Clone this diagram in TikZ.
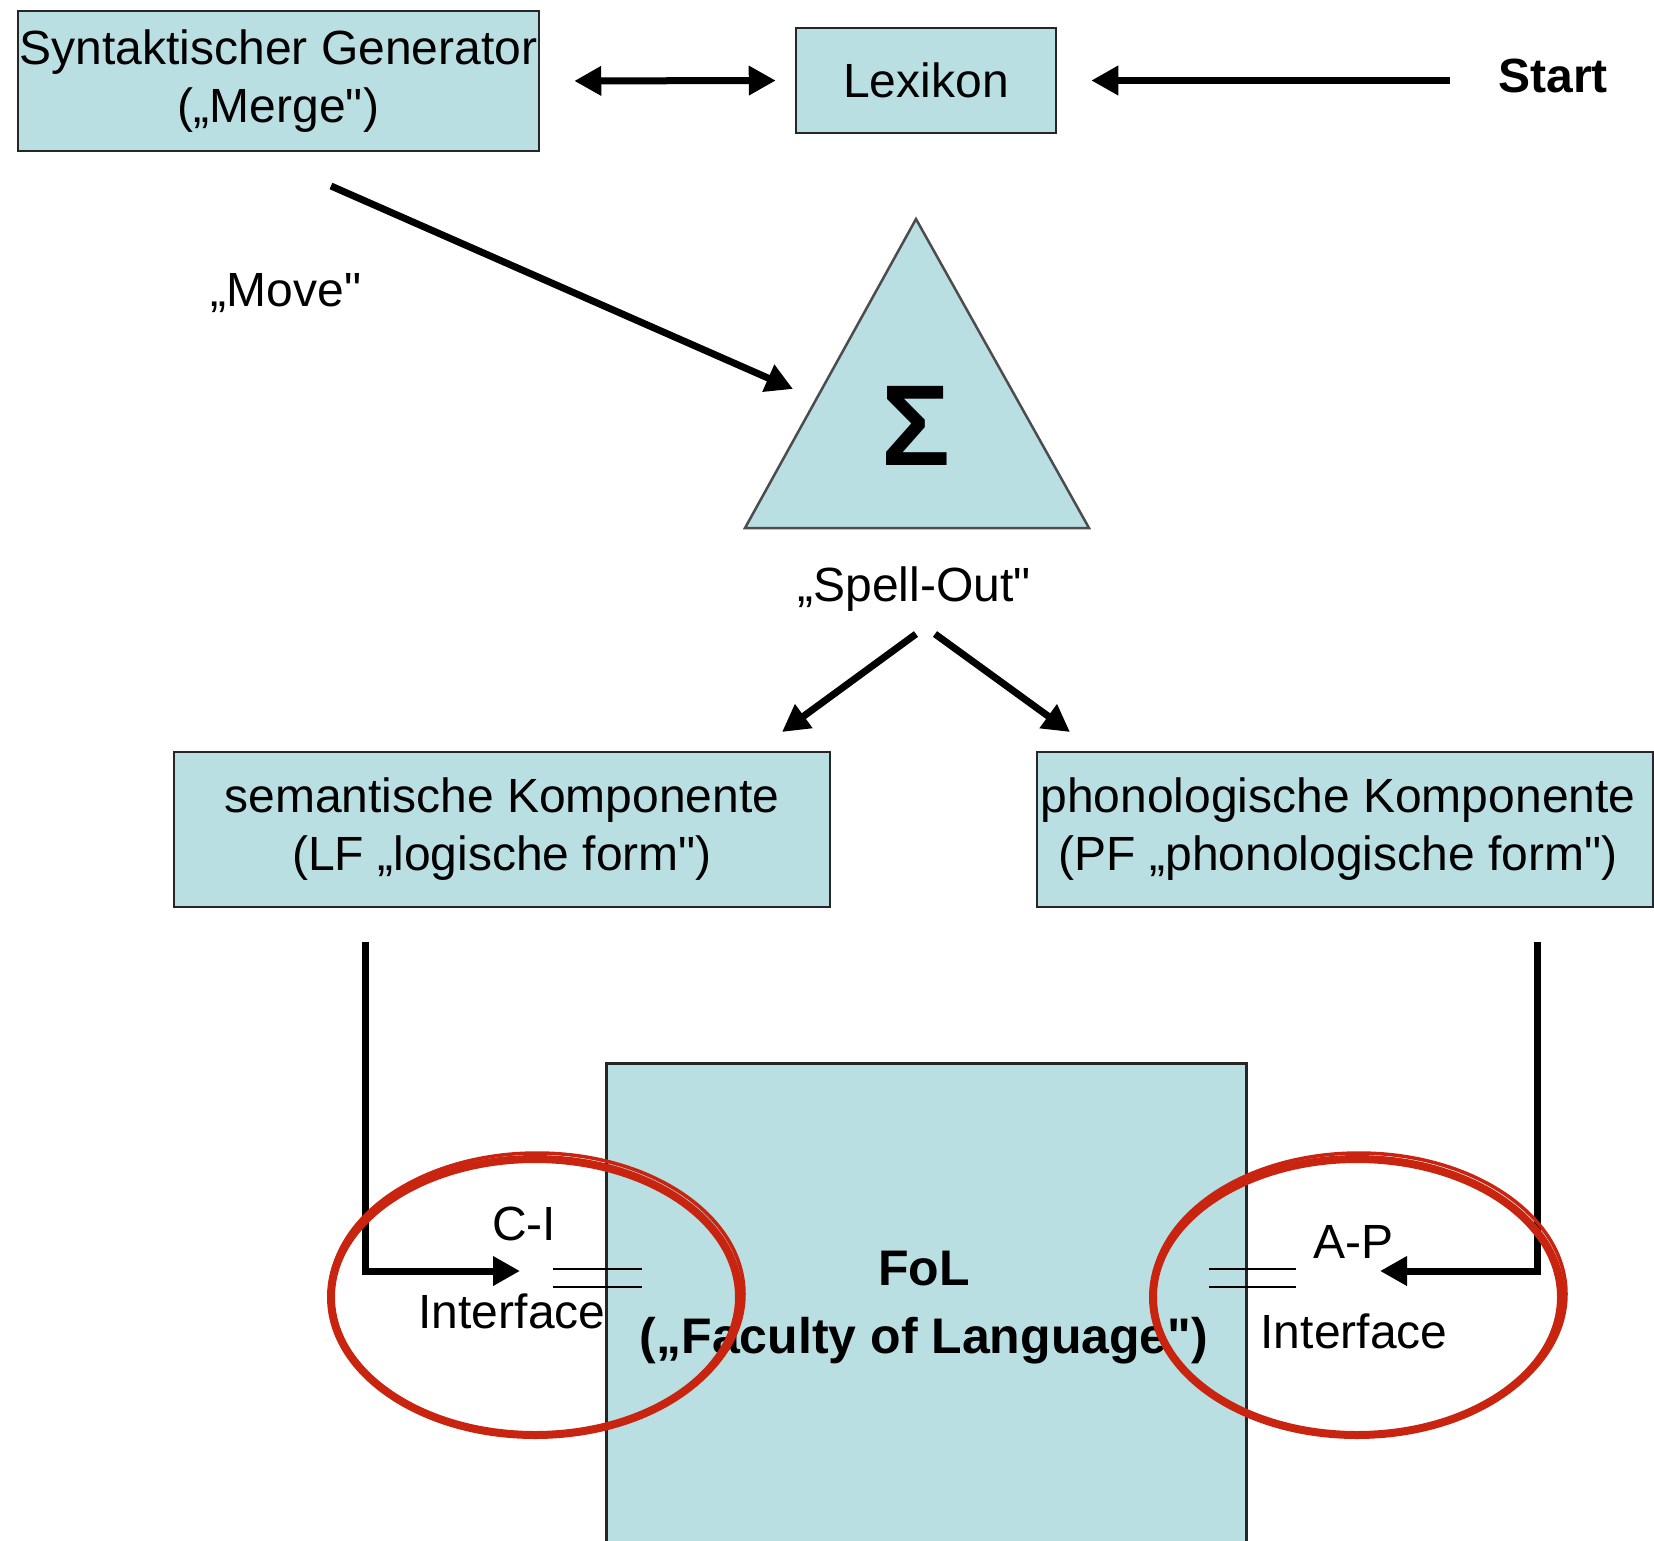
\documentclass[tikz,border=0pt]{standalone}
\usepackage{fontspec}
\setmainfont{Liberation Sans}[Ligatures=TeXOff]
\usetikzlibrary{arrows.meta,calc}
\definecolor{boxfill}{RGB}{185,223,226}
\definecolor{ringred}{RGB}{200,36,16}
\begin{document}
\begin{tikzpicture}[x=1pt,y=-1pt,
  box/.style={draw=black!85,line width=2.5pt,fill=boxfill,inner sep=0pt,align=center,font=\fontsize{48}{58}\selectfont},
  lbl/.style={inner sep=0pt,align=center,font=\fontsize{48}{58}\selectfont},
  arr/.style={line width=7pt,-{Triangle[length=27pt,width=28pt]}},
  darr/.style={line width=7pt,{Triangle[length=27pt,width=28pt]}-{Triangle[length=27pt,width=28pt]}},
  thin/.style={line width=2pt},
  ring/.style={draw=ringred,line width=8pt},
  ringb/.style={draw=ringred,line width=3.5pt}]
\useasboundingbox (0,0) rectangle (1654,1541);
\clip (0,0) rectangle (1654,1541);
% top row
\node[box,minimum width=521pt,minimum height=140pt] (syn) at (278.5,81) {Syntaktischer Generator\\(„Merge")};
\node[box,minimum width=260pt,minimum height=105pt] (lex) at (926,80.5) {Lexikon};
\node[lbl,font=\bfseries\fontsize{48}{58}\selectfont] (start) at (1553,76) {Start};
\draw[darr,shorten <=34pt,shorten >=19pt] (syn.east) -- (lex.west);
\draw[arr,shorten <=48pt,shorten >=34pt] (start.west |- lex.east) -- (lex.east);
% triangle
\coordinate (ta) at (916,219);
\coordinate (tl) at (745,528);
\coordinate (tr) at (1089,528);
\draw[line width=2.5pt,draw=black!70,fill=boxfill] (ta) -- (tl) -- (tr) -- cycle;
\node[inner sep=0pt,font=\bfseries\fontsize{115}{115}\selectfont] (sigma) at (916,426) {Σ};
% move
\coordinate (mv1) at (331,186);
\coordinate (mv2) at (793,389);
\draw[arr] (mv1) -- (mv2);
\node[lbl] (move) at (286,293) {„Move"};
% spell-out
\node[lbl] (spell) at (914,589) {„Spell-Out"};
\coordinate (so1) at (916,634);
\coordinate (so2) at (782,732);
\coordinate (so3) at (935,634);
\coordinate (so4) at (1070,732);
\draw[arr] (so1) -- (so2);
\draw[arr] (so3) -- (so4);
% components
\node[box,minimum width=656pt,minimum height=155pt] (sem) at (502,829.5) {semantische Komponente\\(LF „logische form")};
\node[box,minimum width=616pt,minimum height=155pt] (phon) at (1345,829.5) {};
\node[lbl] (phontext) at (1338,829.5) {phonologische Komponente\\(PF „phonologische form")};
% FoL
\node[box,minimum width=640pt,minimum height=520pt,anchor=north west] (fol) at (605,1062) {};
\node[lbl,font=\bfseries\fontsize{50}{68}\selectfont] (foltext) at (924,1308) {FoL\\(„Faculty of Language")};
% connectors
\coordinate (ls) at (365,942);
\coordinate (lt) at (520,1271);
\draw[arr] (ls) |- (lt);
\coordinate (rs) at (1537,942);
\coordinate (rt) at (1380,1271);
\draw[arr] (rs) |- (rt);
% interface labels
\node[lbl] (ci) at (524,1224) {C-I};
\node[lbl] (cii) at (512,1311) {Interface};
\node[lbl] (ap) at (1353,1242) {A-P};
\node[lbl] (api) at (1354,1331) {Interface};
\coordinate (la1) at (553,1269); \coordinate (la2) at (642,1269);
\coordinate (lb1) at (553,1287); \coordinate (lb2) at (642,1287);
\draw[thin] (la1) -- (la2);
\draw[thin] (lb1) -- (lb2);
\coordinate (ra1) at (1209,1269); \coordinate (ra2) at (1296,1269);
\coordinate (rb1) at (1209,1287); \coordinate (rb2) at (1296,1287);
\draw[thin] (ra1) -- (ra2);
\draw[thin] (rb1) -- (rb2);
% red rings
\draw[ring] (535,1297) ellipse [x radius=204, y radius=138];
\draw[ringb] (537,1294) ellipse [x radius=207, y radius=141];
\draw[ring] (1357,1297) ellipse [x radius=204, y radius=138];
\draw[ringb] (1359,1294) ellipse [x radius=207, y radius=141];
\end{tikzpicture}
\end{document}
